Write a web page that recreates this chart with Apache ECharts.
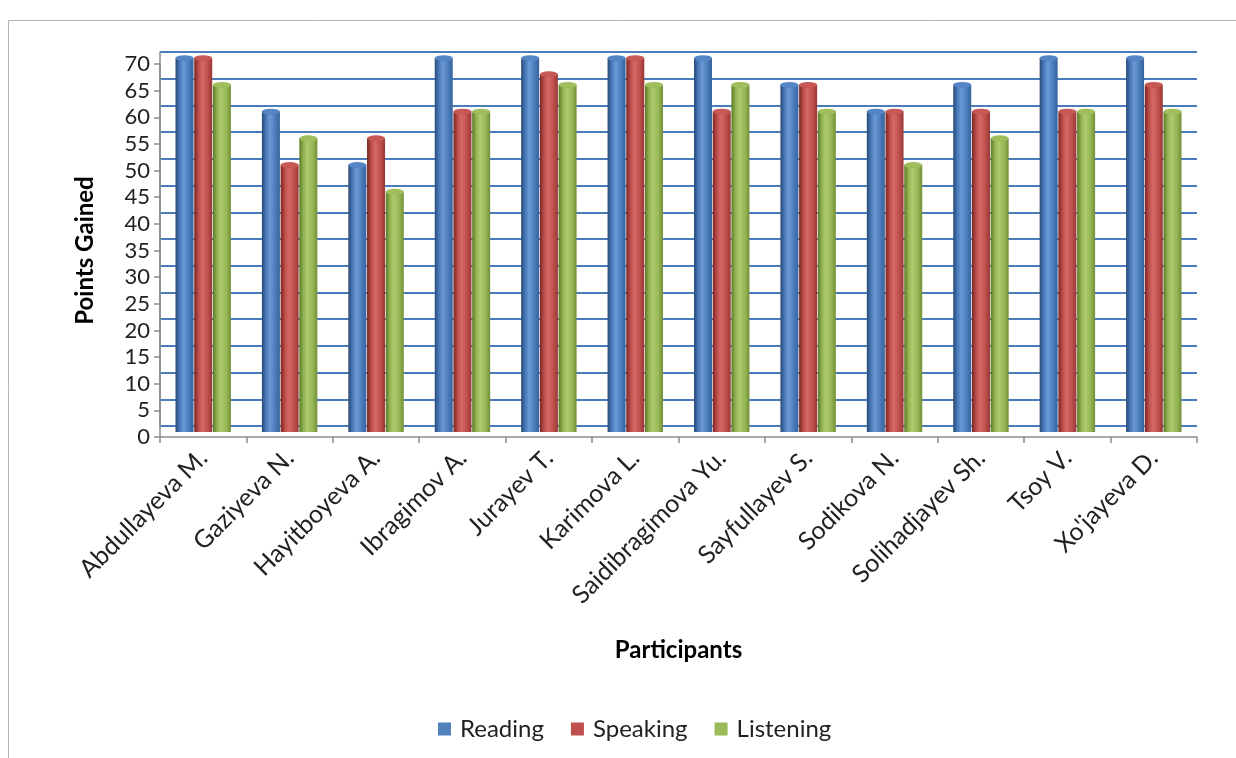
<!DOCTYPE html>
<html>
<head>
<meta charset="utf-8">
<script src="https://cdn.jsdelivr.net/npm/echarts@6/dist/echarts.min.js"></script>
<style>
  html, body { margin: 0; padding: 0; background: #fff; }
  #chart { width: 1236px; height: 758px; }
</style>
</head>
<body>
<div id="chart"></div>
<script>
// participants and scores
var participants = ['Abdullayeva M.', 'Gaziyeva N.', 'Hayitboyeva A.', 'Ibragimov A.', 'Jurayev T.', 'Karimova L.',
  'Saidibragimova Yu.', 'Sayfullayev S.', 'Sodikova N.', 'Solihadjayev Sh.', 'Tsoy V.', "Xo'jayeva D."]
var reading = [70, 60, 50, 70, 70, 70, 70, 65, 60, 65, 70, 70]
var speaking = [70, 50, 55, 60, 67, 70, 60, 65, 60, 60, 60, 65]
var listening = [65, 55, 45, 60, 65, 65, 65, 60, 50, 55, 60, 60]
var yTicks = [0, 5, 10, 15, 20, 25, 30, 35, 40, 45, 50, 55, 60, 65, 70]

var font = 'Lato'
var colors = ['#4f81bd', '#c0504d', '#9bbb59']

// cylinder look: dark edges, lighter middle
function cyl(dark, mid, light, edge) {
  return new echarts.graphic.LinearGradient(0, 0, 1, 0, [
    { offset: 0, color: dark },
    { offset: 0.25, color: mid },
    { offset: 0.45, color: light },
    { offset: 0.75, color: mid },
    { offset: 1, color: edge }
  ])
}
var blueFill = cyl('#274a75', '#4a7cbc', '#6c99d4', '#36629a')
var redFill = cyl('#7a2523', '#bf4f4c', '#d46a67', '#973735')
var greenFill = cyl('#5b7a28', '#96b755', '#adcc6c', '#718f37')

function barSeries(name, data, fill) {
  return {
    name: name,
    type: 'bar',
    xAxisIndex: 1,
    yAxisIndex: 1,
    barWidth: 18,
    barGap: '4%',
    data: data,
    itemStyle: { color: fill },
    z: 3
  }
}
function capSeries(name, data, color, border) {
  return {
    name: name,
    type: 'pictorialBar',
    xAxisIndex: 1,
    yAxisIndex: 1,
    symbol: 'circle',
    symbolSize: [18, 6],
    symbolPosition: 'end',
    symbolOffset: [0, '-50%'],
    barWidth: 18,
    barGap: '4%',
    data: data,
    itemStyle: { color: color, borderColor: border, borderWidth: 0.8 },
    z: 4,
    silent: true
  }
}

var chart = echarts.init(document.getElementById('chart'))
chart.setOption({
  animation: false,
  textStyle: { fontFamily: font },
  graphic: [
    { type: 'rect', shape: { x: 8.5, y: 20.5, width: 1240, height: 760 },
      style: { fill: 'none', stroke: '#b5b5b5', lineWidth: 1 }, z: -10 }
  ],
  legend: {
    data: [
      { name: 'Reading', itemStyle: { color: colors[0] } },
      { name: 'Speaking', itemStyle: { color: colors[1] } },
      { name: 'Listening', itemStyle: { color: colors[2] } }
    ],
    left: 433,
    top: 712,
    itemWidth: 13,
    itemHeight: 13,
    itemGap: 27,
    icon: 'rect',
    textStyle: { fontFamily: font, fontSize: 24, color: '#222', padding: [0, 0, 0, 4] }
  },
  grid: [
    // back wall with the grid lines
    { left: 160, right: 39, top: 52, height: 374 },
    // the cylinders
    { left: 160, right: 39, top: 58, height: 374 },
    // front axes and labels
    { left: 160, right: 39, top: 64, height: 373 }
  ],
  xAxis: [
    { gridIndex: 0, type: 'category', data: participants, show: false },
    { gridIndex: 1, type: 'category', data: participants, show: false },
    {
      gridIndex: 2, type: 'category', data: participants,
      name: 'Participants', nameLocation: 'middle', nameGap: 201,
      nameTextStyle: { fontFamily: font, fontSize: 24, fontWeight: 'bold', color: '#000' },
      axisLine: { lineStyle: { color: '#8c8c8c', width: 1.5 } },
      axisTick: { show: true, length: 6, lineStyle: { color: '#8c8c8c', width: 1.5 } },
      axisLabel: { rotate: 45, fontSize: 25, color: '#222', margin: 17, interval: 0 }
    }
  ],
  yAxis: [
    {
      gridIndex: 0, type: 'value', min: 0, max: 70, interval: 5,
      axisLine: { show: true, lineStyle: { color: '#8c8c8c', width: 1.5 } },
      axisTick: { show: false }, axisLabel: { show: false },
      splitLine: { show: true, lineStyle: { color: '#4a7cbc', width: 2.2 } }
    },
    { gridIndex: 1, type: 'value', min: 0, max: 70, interval: 5, show: false, splitLine: { show: false } },
    {
      gridIndex: 2, type: 'value', min: yTicks[0], max: yTicks[yTicks.length - 1], interval: 5,
      name: 'Points Gained', nameLocation: 'middle', nameGap: 63,
      nameTextStyle: { fontFamily: font, fontSize: 24, fontWeight: 'bold', color: '#000' },
      axisLine: { show: true, lineStyle: { color: '#8c8c8c', width: 1.5 } },
      axisTick: { show: true, length: 6, lineStyle: { color: '#8c8c8c', width: 1.5 } },
      axisLabel: { fontSize: 22, color: '#222', margin: 10 },
      splitLine: { show: false }
    }
  ],
  series: [
    barSeries('Reading', reading, blueFill),
    barSeries('Speaking', speaking, redFill),
    barSeries('Listening', listening, greenFill),
    capSeries('Reading', reading, '#5585c4', '#2f5a8f'),
    capSeries('Speaking', speaking, '#c75855', '#8a2e2c'),
    capSeries('Listening', listening, '#9fbe5e', '#6a8a30')
  ],
  color: colors
})
</script>
</body>
</html>
